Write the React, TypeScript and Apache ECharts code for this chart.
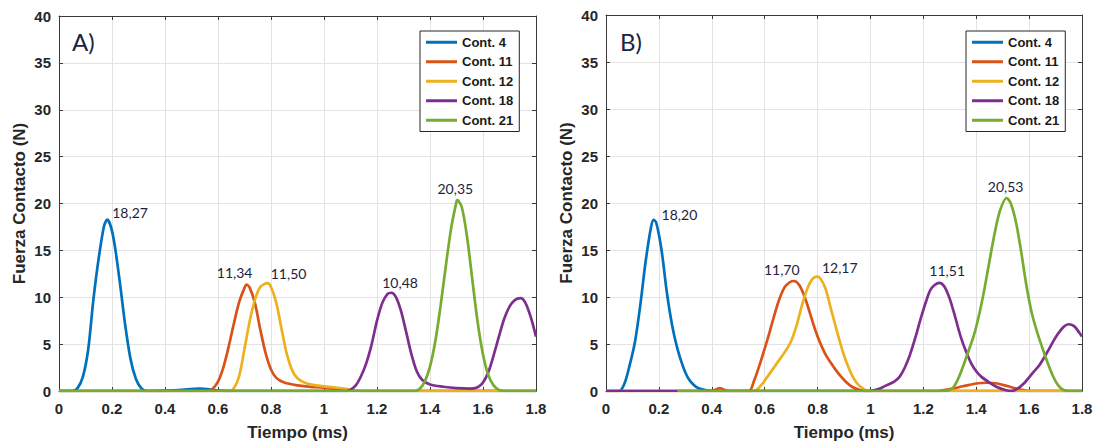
import React, { useEffect, useRef } from "react";
import * as echarts from "echarts";

const seriesNames = ["Cont. 4", "Cont. 11", "Cont. 12", "Cont. 18", "Cont. 21"];
const colors = ["#0072BD", "#D95319", "#EDB120", "#7E2F8E", "#77AC30"];
const xTicks = [0, 1.8, 0.2];
const yTicks = [0, 40, 5];

// Panel A
const aCont4 = [[0,0],[0.05,0],[0.07,0.3],[0.09,1.5],[0.11,4.4],[0.13,9.8],[0.15,14.2],[0.17,17.6],[0.182,18.27],[0.195,17.6],[0.21,15.6],[0.23,11.5],[0.25,7.0],[0.27,3.4],[0.29,1.3],[0.31,0.3],[0.33,0],[0.45,0.1],[0.53,0.25],[0.6,0.05],[0.65,0],[1.8,0]];
const aCont11 = [[0,0],[0.56,0],[0.58,0.25],[0.6,1.0],[0.62,2.5],[0.64,4.7],[0.66,7.2],[0.68,9.5],[0.70,11.0],[0.708,11.34],[0.72,11.0],[0.74,9.3],[0.76,6.5],[0.78,4.0],[0.80,2.3],[0.82,1.4],[0.85,0.9],[0.9,0.6],[0.95,0.45],[1.0,0.35],[1.05,0.2],[1.1,0.08],[1.15,0],[1.8,0]];
const aCont12 = [[0,0],[0.64,0],[0.66,0.3],[0.68,1.6],[0.70,4.5],[0.72,7.5],[0.74,9.8],[0.76,11.1],[0.787,11.5],[0.80,11.1],[0.82,9.4],[0.84,6.6],[0.86,3.9],[0.88,2.2],[0.90,1.35],[0.93,0.85],[0.97,0.6],[1.0,0.5],[1.05,0.35],[1.1,0.15],[1.15,0],[1.8,0]];
const aCont18 = [[0,0],[1.08,0],[1.10,0.15],[1.12,0.6],[1.14,1.6],[1.16,3.0],[1.18,5.0],[1.20,7.5],[1.22,9.4],[1.24,10.35],[1.253,10.48],[1.27,10.1],[1.29,8.6],[1.31,6.3],[1.33,3.9],[1.35,2.1],[1.37,1.2],[1.40,0.7],[1.45,0.45],[1.50,0.3],[1.55,0.25],[1.58,0.4],[1.60,0.9],[1.62,2.0],[1.64,3.8],[1.66,5.8],[1.68,7.7],[1.70,9.0],[1.72,9.7],[1.742,9.9],[1.76,9.4],[1.78,7.9],[1.80,5.8]];
const aCont21 = [[0,0],[1.34,0],[1.36,0.2],[1.38,1.0],[1.40,2.6],[1.42,5.3],[1.44,9.1],[1.46,13.4],[1.48,17.4],[1.50,20.2],[1.503,20.35],[1.52,19.6],[1.54,16.4],[1.56,11.8],[1.58,7.3],[1.60,3.9],[1.62,1.7],[1.64,0.6],[1.66,0.1],[1.68,0],[1.8,0]];
const aPeakLabels = ["18,27", "11,34", "11,50", "10,48", "20,35"];

// Panel B
const bCont4 = [[0,0],[0.05,0],[0.07,0.8],[0.09,2.8],[0.11,5.3],[0.13,9.2],[0.15,13.8],[0.17,17.4],[0.18,18.2],[0.19,17.9],[0.21,15.0],[0.23,10.5],[0.25,7.0],[0.27,4.5],[0.29,2.7],[0.31,1.4],[0.33,0.7],[0.35,0.3],[0.38,0.08],[0.42,0],[1.8,0]];
const bCont11 = [[0,0],[0.40,0],[0.43,0.3],[0.46,0],[0.54,0],[0.56,1.1],[0.58,2.7],[0.60,4.5],[0.62,6.4],[0.64,8.4],[0.66,10.1],[0.68,11.2],[0.71,11.7],[0.73,11.3],[0.75,10.1],[0.77,8.4],[0.79,6.6],[0.81,5.1],[0.83,3.9],[0.85,3.0],[0.87,2.2],[0.89,1.5],[0.91,0.9],[0.93,0.45],[0.96,0.1],[0.99,0],[1.25,0],[1.30,0.2],[1.35,0.5],[1.40,0.8],[1.44,0.88],[1.48,0.8],[1.52,0.5],[1.56,0.2],[1.60,0],[1.8,0]];
const bCont12 = [[0,0],[0.56,0],[0.58,0.4],[0.60,1.1],[0.62,1.9],[0.64,2.7],[0.66,3.5],[0.68,4.3],[0.70,5.3],[0.72,6.9],[0.74,9.0],[0.76,10.8],[0.78,11.9],[0.797,12.17],[0.81,12.0],[0.83,10.9],[0.85,8.8],[0.87,6.7],[0.89,4.7],[0.91,3.0],[0.93,1.7],[0.95,0.8],[0.97,0.3],[0.99,0],[1.8,0]];
const bCont18 = [[0,0],[1.0,0],[1.03,0.2],[1.06,0.6],[1.09,1.0],[1.11,1.5],[1.13,2.5],[1.15,3.9],[1.17,5.7],[1.19,7.7],[1.21,9.5],[1.23,10.9],[1.26,11.51],[1.28,11.1],[1.30,9.8],[1.32,7.9],[1.34,5.9],[1.36,4.3],[1.38,3.0],[1.40,2.1],[1.42,1.5],[1.45,0.9],[1.48,0.4],[1.51,0.1],[1.53,0],[1.55,0.15],[1.58,0.8],[1.61,1.8],[1.64,2.8],[1.67,4.2],[1.70,5.7],[1.73,6.8],[1.75,7.1],[1.77,6.9],[1.79,6.2],[1.80,5.8]];
const bCont21 = [[0.27,0],[1.28,0],[1.31,0.3],[1.33,1.2],[1.35,2.6],[1.37,4.2],[1.39,5.8],[1.41,8.0],[1.43,10.7],[1.45,13.8],[1.47,16.8],[1.49,19.2],[1.515,20.53],[1.53,20.0],[1.55,18.0],[1.57,14.8],[1.59,11.2],[1.61,8.3],[1.63,6.3],[1.65,4.6],[1.67,3.0],[1.69,1.6],[1.71,0.6],[1.73,0.1],[1.75,0],[1.8,0]];
const bPeakLabels = ["18,20", "11,70", "12,17", "11,51", "20,53"];

const panelA = [aCont4, aCont11, aCont12, aCont18, aCont21];
const panelB = [bCont4, bCont11, bCont12, bCont18, bCont21];

// label placement per series: [position, offsetX, offsetY]
const aLabelPos: any[] = [["right", 0, -7], ["top", -12, 0], ["top", 21, 2], ["top", 9, 2], ["top", -2, 0]];
const bLabelPos: any[] = [["right", 3, -5], ["top", -12, 0], ["top", 23, 3], ["top", 8, 0], ["top", -1, 0]];

const AXIS_COLOR = "#3a3a3a";
const TEXT_COLOR = "#262626";
const FONT = "'Liberation Sans', Arial, sans-serif";

function peakOf(d: number[][]) {
  let best = d[0];
  for (const p of d) if (p[1] > best[1]) best = p;
  return best;
}

function makeAxes(gridIndex: number) {
  const common = { min: xTicks[0], max: xTicks[1], interval: xTicks[2] };
  const ycommon = { min: yTicks[0], max: yTicks[1], interval: yTicks[2] };
  const xAxes = [
    {
      type: "value", gridIndex, position: "bottom", ...common,
      name: "Tiempo (ms)", nameLocation: "middle", nameGap: 33,
      nameTextStyle: { fontFamily: FONT, fontWeight: "bold", fontSize: 17, color: TEXT_COLOR },
      axisLine: { show: true, onZero: false, lineStyle: { color: AXIS_COLOR, width: 1 } },
      axisTick: { show: true, inside: true, length: 4, lineStyle: { color: AXIS_COLOR } },
      axisLabel: { fontFamily: FONT, fontWeight: "bold", fontSize: 15, color: TEXT_COLOR, margin: 10 },
      splitLine: { show: true, lineStyle: { color: "#e3e3e3", width: 1 } },
    },
    {
      type: "value", gridIndex, position: "top", ...common,
      axisLine: { show: true, onZero: false, lineStyle: { color: AXIS_COLOR, width: 1 } },
      axisTick: { show: true, inside: true, length: 4, lineStyle: { color: AXIS_COLOR } },
      axisLabel: { show: false },
      splitLine: { show: false },
    },
  ];
  const yAxes = [
    {
      type: "value", gridIndex, position: "left", ...ycommon,
      name: "Fuerza Contacto (N)", nameLocation: "middle", nameGap: 31, nameRotate: 90,
      nameTextStyle: { fontFamily: FONT, fontWeight: "bold", fontSize: 17, color: TEXT_COLOR },
      axisLine: { show: true, onZero: false, lineStyle: { color: AXIS_COLOR, width: 1 } },
      axisTick: { show: true, inside: true, length: 4, lineStyle: { color: AXIS_COLOR } },
      axisLabel: { fontFamily: FONT, fontWeight: "bold", fontSize: 15, color: TEXT_COLOR, margin: 8 },
      splitLine: { show: true, lineStyle: { color: "#e3e3e3", width: 1 } },
    },
    {
      type: "value", gridIndex, position: "right", ...ycommon,
      axisLine: { show: true, onZero: false, lineStyle: { color: AXIS_COLOR, width: 1 } },
      axisTick: { show: true, inside: true, length: 4, lineStyle: { color: AXIS_COLOR } },
      axisLabel: { show: false },
      splitLine: { show: false },
    },
  ];
  return { xAxes, yAxes };
}

function makeSeries(panel: number[][][], labels: string[], pos: any[], axisIdx: number) {
  return panel.map((d, i) => ({
    name: seriesNames[i],
    type: "line",
    xAxisIndex: axisIdx,
    yAxisIndex: axisIdx,
    data: d,
    color: colors[i],
    symbol: "none",
    showSymbol: false,
    smooth: 0.3,
    lineStyle: { width: 2.7, color: colors[i] },
    markPoint: {
      symbol: "circle",
      symbolSize: 0,
      silent: true,
      itemStyle: { color: "transparent" },
      label: {
        show: true,
        formatter: "{b}",
        position: pos[i][0],
        offset: [pos[i][1], pos[i][2]],
        fontFamily: "Lato, 'Open Sans', sans-serif",
        fontSize: 14,
        color: "#1c2340",
      },
      data: [{ name: labels[i], coord: peakOf(d) }],
    },
  }));
}

function legendFor(left: number) {
  return {
    data: seriesNames,
    orient: "vertical",
    left,
    top: 31,
    icon: "rect",
    itemWidth: 31,
    itemHeight: 3,
    itemGap: 5,
    padding: [4, 6, 4, 6],
    borderColor: "#262626",
    borderWidth: 1,
    backgroundColor: "#ffffff",
    textStyle: { fontFamily: FONT, fontWeight: "bold", fontSize: 13, color: "#1a1a1a", lineHeight: 14.5 },
  };
}

export default function App() {
  const ref = useRef<HTMLDivElement>(null);
  useEffect(() => {
    if (!ref.current) return;
    const chart = echarts.init(ref.current, null, { renderer: "svg" });
    const A = makeAxes(0);
    const B = makeAxes(1);
    const option: any = {
      animation: false,
      backgroundColor: "#ffffff",
      textStyle: { fontFamily: FONT },
      title: [
        { text: "A)", left: 72, top: 29, padding: 0, textStyle: { fontFamily: "Lato, sans-serif", fontSize: 24, fontWeight: "normal", color: "#1c2340" } },
        { text: "B)", left: 620, top: 29, padding: 0, textStyle: { fontFamily: "Lato, sans-serif", fontSize: 24, fontWeight: "normal", color: "#1c2340" } },
      ],
      legend: [legendFor(420), legendFor(966)],
      grid: [
        { left: 59, top: 16, width: 477, height: 375 },
        { left: 606, top: 15, width: 476, height: 376 },
      ],
      xAxis: [...A.xAxes, ...B.xAxes],
      yAxis: [...A.yAxes, ...B.yAxes],
      series: [
        ...makeSeries(panelA, aPeakLabels, aLabelPos, 0).map((s) => ({ ...s, xAxisIndex: 0, yAxisIndex: 0 })),
        ...makeSeries(panelB, bPeakLabels, bLabelPos, 2).map((s) => ({ ...s, xAxisIndex: 2, yAxisIndex: 2 })),
      ],
    };
    chart.setOption(option);
    return () => chart.dispose();
  }, []);
  return (
    <div
      ref={ref}
      style={{ position: "fixed", left: 0, top: 0, width: 1097, height: 447, background: "#fff" }}
    />
  );
}
